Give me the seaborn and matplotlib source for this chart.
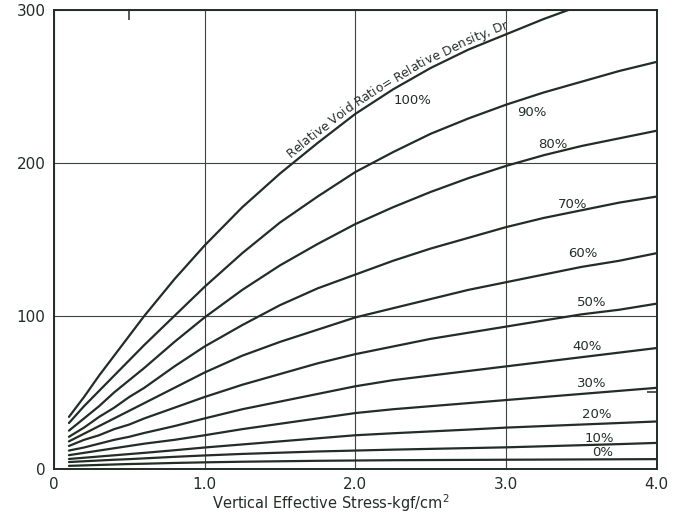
import numpy as np
import pandas as pd
import matplotlib
matplotlib.use("Agg")
import matplotlib.pyplot as plt
from matplotlib.font_manager import FontProperties
import seaborn as sns

# Vertical effective stress (kgf/cm^2) at which each curve is tabulated
stress = [0.1, 0.2, 0.3, 0.4, 0.5, 0.6, 0.8, 1.0, 1.25, 1.5,
          1.75, 2.0, 2.25, 2.5, 2.75, 3.0, 3.25, 3.5, 3.75, 4.0]

# Ordinate values for each relative density curve
dr_100 = [34, 47, 61, 74, 87, 100, 124, 146, 171, 193,
          213, 232, 248, 262, 274, 284, 294, 303, np.nan, np.nan]
dr_90 = [30, 41, 51, 61, 71, 81, 100, 119, 141, 161,
         178, 194, 207, 219, 229, 238, 246, 253, 260, 266]
dr_80 = [25, 33, 41, 50, 58, 66, 83, 99, 117, 133,
         147, 160, 171, 181, 190, 198, 205, 211, 216, 221]
dr_70 = [21, 27, 34, 40, 47, 53, 67, 80, 94, 107,
         118, 127, 136, 144, 151, 158, 164, 169, 174, 178]
dr_60 = [18, 23, 28, 33, 38, 43, 53, 63, 74, 83,
         91, 99, 105, 111, 117, 122, 127, 132, 136, 141]
dr_50 = [15, 19, 22, 26, 29, 33, 40, 47, 55, 62,
         69, 75, 80, 85, 89, 93, 97, 101, 104, 108]
dr_40 = [12, 14, 16.5, 19, 21, 23.5, 28, 33, 39, 44,
         49, 54, 58, 61, 64, 67, 70, 73, 76, 79]
dr_30 = [9, 10.5, 12, 13.5, 15, 16.5, 19, 22, 26, 29.5,
         33, 36.5, 39, 41, 43, 45, 47, 49, 51, 53]
dr_20 = [6.5, 7.3, 8.1, 8.9, 9.7, 10.5, 12.2, 14, 16, 18,
         20, 22, 23.3, 24.5, 25.7, 27, 28, 29, 30, 31]
dr_10 = [4.5, 5, 5.5, 6, 6.4, 6.9, 7.9, 8.8, 9.8, 10.6,
         11.4, 12, 12.6, 13.1, 13.6, 14.1, 14.8, 15.5, 16.2, 17]
dr_0 = [2, 2.3, 2.6, 2.9, 3.2, 3.4, 3.9, 4.3, 4.7, 5,
        5.3, 5.5, 5.7, 5.8, 5.9, 6, 6.1, 6.2, 6.3, 6.4]

curve_labels = ["100%", "90%", "80%", "70%", "60%", "50%",
                "40%", "30%", "20%", "10%", "0%"]
series = [dr_100, dr_90, dr_80, dr_70, dr_60, dr_50,
          dr_40, dr_30, dr_20, dr_10, dr_0]

x_ticks = [0, 1.0, 2.0, 3.0, 4.0]
x_tick_labels = ["0", "1.0", "2.0", "3.0", "4.0"]
y_ticks = [0, 100, 200, 300]
y_tick_labels = ["0", "100", "200", "300"]

curve_note = "Relative Void Ratio= Relative Density, Dr"
x_title = "Vertical Effective Stress-kgf/cm$^{2}$"

# long-form table for seaborn
frames = []
for lab, vals in zip(curve_labels, series):
    frames.append(pd.DataFrame({"stress": stress, "value": vals, "Dr": lab}))
df = pd.concat(frames, ignore_index=True).dropna()

sns.set_theme(style="white")
plt.rcParams["font.family"] = ["DejaVu Sans"]

ink = "#222d27"
fig = plt.figure(figsize=(6.82, 5.17), dpi=100)
ax = fig.add_axes([0.079, 0.093, 0.884, 0.888])

sns.lineplot(data=df, x="stress", y="value", hue="Dr",
             palette={lab: ink for lab in curve_labels},
             linewidth=1.6, legend=False, sort=False, ax=ax)

ax.set_xlim(0, 4.0)
ax.set_ylim(0, 300)
ax.set_xticks(x_ticks)
ax.set_xticklabels(x_tick_labels)
ax.set_yticks(y_ticks)
ax.set_yticklabels(y_tick_labels)
ax.set_xticks([0.5], minor=True)
ax.set_yticks([50], minor=True)
ax.tick_params(axis="both", which="major", length=0, labelsize=11,
               colors=ink, pad=6)
ax.tick_params(axis="both", which="minor", length=7, width=1.1,
               direction="in", color=ink, top=True, right=True)
ax.grid(True, which="major", color="#3d4440", linewidth=0.8)
for sp in ax.spines.values():
    sp.set_visible(True)
    sp.set_color(ink)
    sp.set_linewidth(1.4)

ax.set_xlabel(x_title, fontsize=10.5, color=ink)
ax.set_ylabel("")
ax.xaxis.set_label_coords(0.46, -0.052)

# labels placed at the right-hand end of each curve
label_pos = [(2.38, 241), (3.17, 233), (3.31, 212), (3.44, 173),
             (3.51, 141), (3.57, 109), (3.54, 80), (3.57, 56),
             (3.60, 35.4), (3.62, 20), (3.64, 11)]
for lab, (lx, ly) in zip(curve_labels, label_pos):
    ax.text(lx, ly, lab, fontsize=9.5, color=ink, ha="center", va="center")


def text_along_curve(ax, xs, ys, text, start_px_x, offset_px, fontsize):
    """Write `text` letter by letter just above the curve (xs, ys)."""
    fig = ax.figure
    renderer = fig.canvas.get_renderer()
    prop = FontProperties(family="DejaVu Sans", size=fontsize)
    ok = ~np.isnan(np.asarray(ys, dtype=float))
    pts = ax.transData.transform(np.column_stack([np.asarray(xs)[ok],
                                                  np.asarray(ys)[ok]]))
    seg = np.hypot(np.diff(pts[:, 0]), np.diff(pts[:, 1]))
    arc = np.concatenate([[0], np.cumsum(seg)])
    fine = np.linspace(0, arc[-1], 2000)
    px = np.interp(fine, arc, pts[:, 0])
    py = np.interp(fine, arc, pts[:, 1])
    s0 = np.interp(start_px_x, px, fine)

    def width(s):
        if not s:
            return 0.0
        w, _, _ = renderer.get_text_width_height_descent(s, prop, ismath=False)
        return w

    inv = ax.transData.inverted()
    for i, ch in enumerate(text):
        if ch == " ":
            continue
        mid = s0 + 0.5 * (width(text[:i]) + width(text[:i + 1]))
        a, b = mid - 8, mid + 8
        x0, y0 = np.interp(a, fine, px), np.interp(a, fine, py)
        x1, y1 = np.interp(b, fine, px), np.interp(b, fine, py)
        ang = np.arctan2(y1 - y0, x1 - x0)
        cx, cy = np.interp(mid, fine, px), np.interp(mid, fine, py)
        nx, ny = -np.sin(ang), np.cos(ang)
        bx, by = cx + offset_px * nx, cy + offset_px * ny
        dx, dy = inv.transform((bx, by))
        ax.text(dx, dy, ch, fontproperties=prop, color=ink, ha="center",
                va="baseline", rotation=np.degrees(ang),
                rotation_mode="anchor")


text_along_curve(ax, stress, dr_100, curve_note, start_px_x=294,
                 offset_px=5, fontsize=8.9)

fig.savefig("out.png", dpi=100, facecolor="white")
